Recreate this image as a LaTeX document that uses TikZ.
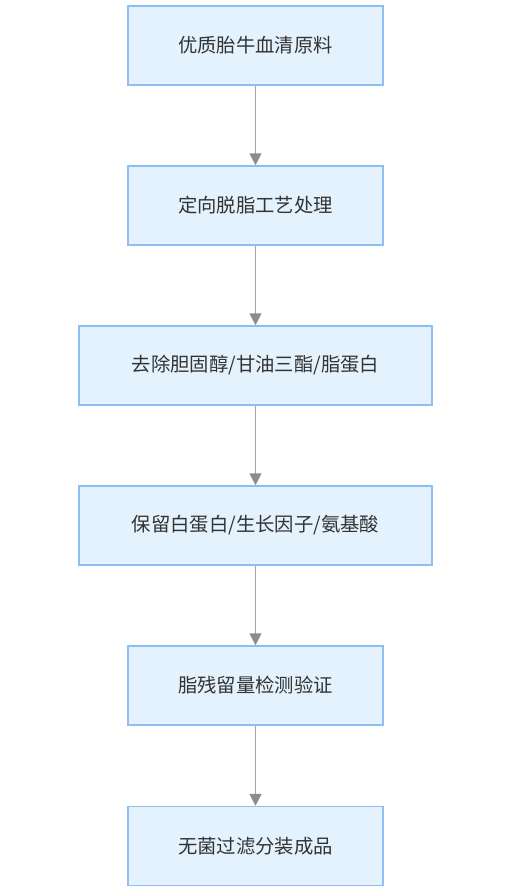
\documentclass[tikz,border=0pt]{standalone}
\usepackage{fontspec}
\newfontfamily\cjk{Noto Sans CJK SC}
\usetikzlibrary{arrows.meta}
\definecolor{boxfill}{HTML}{E3F2FD}
\definecolor{boxline}{HTML}{8DBEF5}
\definecolor{txt}{HTML}{333333}
\definecolor{arr}{HTML}{A6A6A6}
\definecolor{tip}{HTML}{8C8C8C}
\tikzset{
  stepbox/.style={draw=boxline, fill=boxfill, line width=1.1pt, minimum height=59.25pt,
    minimum width=191.25pt, inner sep=0pt, text=txt, font=\cjk\fontsize{14.5pt}{17pt}\selectfont},
  widebox/.style={stepbox, minimum width=264.75pt},
  link/.style={draw=arr, line width=1.1pt, -{Triangle[length=9pt,width=9pt,fill=tip,color=tip]}}
}
\begin{document}
\begin{tikzpicture}[x=0.75pt,y=-0.75pt]
\useasboundingbox (0,0) rectangle (511,894);
\node[stepbox] (a) at (255.5,45.5) {优质胎牛血清原料};
\node[stepbox] (b) at (255.5,205.5) {定向脱脂工艺处理};
\node[widebox] (c) at (255.5,365.5) {去除胆固醇/甘油三酯/脂蛋白};
\node[widebox] (d) at (255.5,525.5) {保留白蛋白/生长因子/氨基酸};
\node[stepbox] (e) at (255.5,685.5) {脂残留量检测验证};
\node[stepbox] (f) at (255.5,846) {无菌过滤分装成品};
\draw[link] (a) -- (b);
\draw[link] (b) -- (c);
\draw[link] (c) -- (d);
\draw[link] (d) -- (e);
\draw[link] (e) -- (f);
\end{tikzpicture}
\end{document}
